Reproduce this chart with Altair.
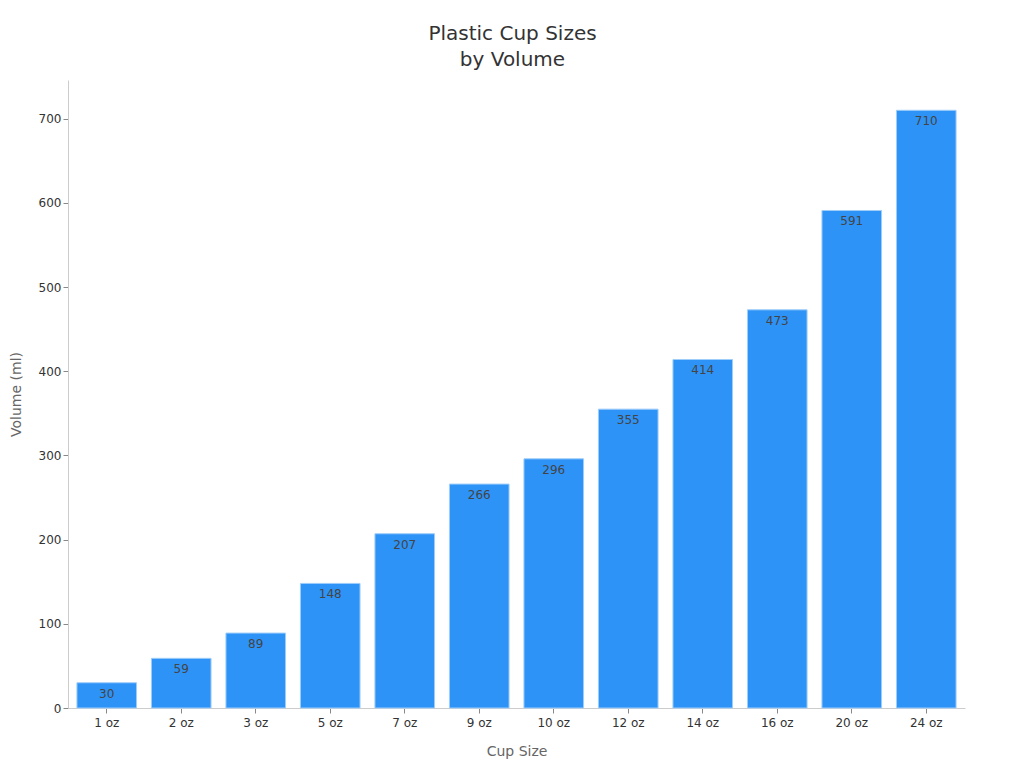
import altair as alt
import pandas as pd

sizes = ["1 oz", "2 oz", "3 oz", "5 oz", "7 oz", "9 oz", "10 oz", "12 oz", "14 oz", "16 oz", "20 oz", "24 oz"]
volumes = [30, 59, 89, 148, 207, 266, 296, 355, 414, 473, 591, 710]

df = pd.DataFrame({"size": sizes, "volume": volumes})

base = alt.Chart(df).encode(
    x=alt.X("size:N", sort=sizes, title="Cup Size",
            scale=alt.Scale(paddingInner=0.2, paddingOuter=0.12),
            axis=alt.Axis(labelAngle=0, labelFontSize=12, labelColor="#333",
                          titleFontSize=14, titleColor="#666", titleFontWeight="normal",
                          titlePadding=16, domainColor="#ccc", tickColor="#888",
                          labelPadding=4, tickSize=5, labelFont="DejaVu Sans",
                          titleFont="DejaVu Sans")),
    y=alt.Y("volume:Q", title="Volume (ml)",
            scale=alt.Scale(domain=[0, 746], nice=False),
            axis=alt.Axis(values=[0, 100, 200, 300, 400, 500, 600, 700], grid=False,
                          labelFontSize=12, labelColor="#333", titleFontSize=14,
                          titleColor="#666", titleFontWeight="normal", titlePadding=15,
                          domainColor="#ccc", tickColor="#888", tickSize=5,
                          labelFont="DejaVu Sans", titleFont="DejaVu Sans")),
)

bars = base.mark_bar(color="#2E93F7", stroke="#9fcdfa", strokeWidth=1)
labels = base.mark_text(baseline="top", dy=6, fontSize=12, color="#444",
                        font="DejaVu Sans").encode(text="volume:Q")

chart = (bars + labels).properties(
    width=897, height=628,
    title=alt.TitleParams(["Plastic Cup Sizes", "by Volume"], fontSize=20,
                          font="DejaVu Sans", fontWeight="normal", color="#333",
                          anchor="middle", offset=10, lineHeight=26, dx=-4),
    autosize=alt.AutoSizeParams(type="none"),
    padding={"left": 60, "top": 72, "right": 40, "bottom": 60},
).configure_view(stroke=None)

chart.save("out.html", embed_options={"renderer": "svg", "actions": False})
